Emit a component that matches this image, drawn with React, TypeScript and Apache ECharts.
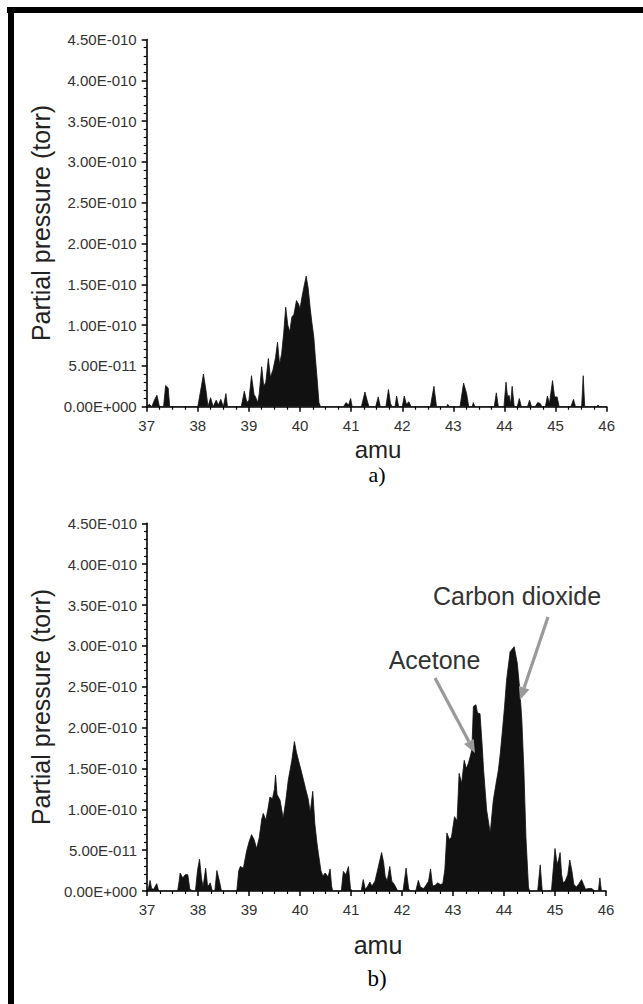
import React, { useEffect, useRef } from "react";
import * as echarts from "echarts";

// amu range and y ticks (units of 1E-11 torr)
const amuMin = 37;
const amuMax = 46;
const yMax = 45;
const yStep = 5;

// Panel a) spectrum: [amu, partial pressure in 1E-11 torr]
const spectrumA: [number, number][] = [
  [37.0, 0], [37.05, 0.3], [37.1, 0], [37.15, 0.8], [37.2, 1.4], [37.25, 0],
  [37.33, 0], [37.37, 2.6], [37.42, 2.3], [37.45, 0],
  [38.0, 0], [38.07, 2.5], [38.11, 4.0], [38.16, 2.0], [38.2, 0],
  [38.25, 1.1], [38.3, 0], [38.36, 0.8], [38.4, 0.2], [38.45, 0.9], [38.5, 0], [38.55, 1.6], [38.58, 0],
  [38.85, 0], [38.91, 1.9], [38.96, 0.5], [39.0, 0.8], [39.05, 3.8], [39.1, 1.5], [39.13, 1.2], [39.17, 0.5],
  [39.2, 1.5], [39.25, 4.9], [39.29, 2.5], [39.33, 3.0], [39.38, 5.9], [39.42, 3.6], [39.47, 4.5],
  [39.52, 6.0], [39.56, 7.9], [39.6, 5.2], [39.64, 6.5], [39.68, 9.0], [39.72, 12.2], [39.76, 10.0],
  [39.8, 9.2], [39.84, 11.0], [39.88, 11.3], [39.93, 13.0], [39.97, 12.6], [40.0, 12.0], [40.04, 13.5],
  [40.08, 14.8], [40.12, 16.0], [40.16, 14.5], [40.2, 12.0], [40.23, 10.4], [40.27, 8.5], [40.3, 6.0],
  [40.34, 3.0], [40.37, 0.5], [40.4, 0],
  [40.85, 0], [40.9, 0.5], [40.95, 0.2], [40.99, 1.0], [41.02, 0],
  [41.2, 0], [41.27, 1.8], [41.32, 0.6], [41.35, 0],
  [41.48, 0], [41.53, 1.2], [41.57, 0],
  [41.68, 0], [41.73, 2.1], [41.77, 0.4], [41.8, 0],
  [41.86, 0], [41.89, 1.3], [41.93, 0],
  [42.0, 0], [42.04, 1.3], [42.08, 0.3], [42.13, 0.6], [42.17, 0],
  [42.55, 0], [42.62, 2.5], [42.67, 0],
  [42.87, 0], [42.89, 0.3], [42.92, 0],
  [43.13, 0], [43.2, 2.9], [43.26, 1.6], [43.3, 0], [43.37, 0], [43.39, 0.5], [43.42, 0],
  [43.8, 0], [43.84, 1.7], [43.88, 0],
  [43.99, 0], [44.03, 3.0], [44.06, 1.2], [44.09, 1.4], [44.12, 0.3], [44.15, 2.5], [44.19, 0],
  [44.25, 0], [44.29, 1.0], [44.33, 0],
  [44.45, 0], [44.49, 0.8], [44.53, 0],
  [44.6, 0], [44.65, 0.5], [44.7, 0.4], [44.73, 0],
  [44.8, 0], [44.84, 1.3], [44.88, 0.4], [44.94, 3.2], [44.98, 1.2], [45.03, 1.2], [45.07, 0],
  [45.3, 0], [45.35, 0.9], [45.39, 0],
  [45.51, 0], [45.54, 3.8], [45.57, 0],
  [45.8, 0], [45.83, 0.2], [45.86, 0], [46.0, 0],
];

// Panel b) spectrum: [amu, partial pressure in 1E-11 torr]
const spectrumB: [number, number][] = [
  [37.0, 0], [37.03, 0.4], [37.06, 1.3], [37.09, 0.3], [37.13, 0.2], [37.19, 0.9], [37.23, 0],
  [37.6, 0], [37.63, 1.2], [37.65, 2.2], [37.7, 1.6], [37.75, 2.0], [37.8, 2.0], [37.84, 0.2], [37.9, 0],
  [37.95, 0], [37.99, 2.5], [38.03, 3.9], [38.07, 1.5], [38.1, 0.5], [38.15, 2.8], [38.19, 0.5],
  [38.24, 1.0], [38.28, 0], [38.33, 0], [38.37, 2.5], [38.42, 1.2], [38.46, 0],
  [38.76, 0], [38.8, 2.5], [38.83, 3.0], [38.89, 2.8], [38.95, 4.8], [39.0, 6.0], [39.05, 6.9],
  [39.1, 6.3], [39.15, 5.2], [39.2, 6.5], [39.25, 8.8], [39.28, 9.5], [39.33, 8.7], [39.37, 10.0],
  [39.41, 11.5], [39.46, 11.3], [39.5, 12.5], [39.52, 14.2], [39.55, 11.8], [39.61, 11.1], [39.67, 8.9],
  [39.72, 11.0], [39.77, 13.6], [39.84, 16.0], [39.89, 18.3], [39.93, 17.0], [39.97, 16.0], [40.02, 14.8],
  [40.06, 13.8], [40.11, 12.5], [40.16, 11.3], [40.2, 9.6], [40.25, 12.2], [40.29, 8.3], [40.33, 6.0],
  [40.36, 4.6], [40.41, 2.5], [40.45, 1.8], [40.49, 2.2], [40.52, 2.0], [40.55, 1.7], [40.59, 2.7],
  [40.62, 0.6], [40.64, 0],
  [40.81, 0], [40.85, 2.4], [40.9, 2.0], [40.95, 3.0], [40.99, 0.3], [41.02, 0],
  [41.2, 0], [41.24, 1.4], [41.28, 0.2], [41.33, 0.6], [41.37, 1.1], [41.41, 0.6], [41.47, 1.2],
  [41.53, 2.8], [41.6, 4.7], [41.64, 3.5], [41.67, 1.8], [41.71, 1.2], [41.76, 3.0], [41.8, 1.2],
  [41.85, 0.8], [41.9, 0.2], [41.93, 0],
  [42.02, 0], [42.08, 2.8], [42.13, 0.3], [42.16, 0],
  [42.27, 0], [42.32, 1.3], [42.36, 0.5], [42.42, 0.3], [42.46, 0.6], [42.52, 1.2], [42.56, 2.7],
  [42.6, 0.6], [42.65, 0.7], [42.7, 1.0], [42.75, 0.8], [42.8, 0.9], [42.84, 2.6], [42.88, 7.1],
  [42.93, 6.3], [42.97, 6.6], [43.03, 9.1], [43.08, 8.6], [43.12, 14.4], [43.17, 13.2], [43.22, 16.0],
  [43.26, 15.0], [43.3, 15.6], [43.34, 16.5], [43.37, 17.3], [43.4, 22.6], [43.45, 22.8], [43.48, 21.8],
  [43.53, 21.7], [43.57, 18.0], [43.6, 14.8], [43.66, 9.9], [43.73, 7.1], [43.79, 11.1], [43.84, 13.0],
  [43.89, 14.8], [43.93, 17.0], [43.97, 19.7], [44.01, 22.5], [44.05, 25.8], [44.12, 29.3], [44.2, 29.9],
  [44.26, 27.9], [44.31, 24.6], [44.35, 20.9], [44.39, 14.8], [44.43, 6.6], [44.48, 0.5], [44.5, 0],
  [44.66, 0], [44.71, 3.2], [44.75, 0],
  [44.93, 0], [44.97, 3.0], [45.0, 5.2], [45.04, 3.3], [45.07, 3.8], [45.1, 4.7], [45.13, 2.0],
  [45.16, 1.0], [45.2, 1.2], [45.25, 2.0], [45.29, 3.8], [45.33, 2.5], [45.37, 0.8], [45.42, 0.5],
  [45.47, 0.9], [45.52, 1.4], [45.56, 0.8], [45.6, 0.2], [45.65, 0.3], [45.72, 0.3], [45.78, 0],
  [45.85, 0], [45.88, 1.6], [45.91, 0], [46.0, 0],
];

const yTitle = "Partial pressure (torr)";
const xTitle = "amu";
const panelLabels = ["a)", "b)"];
const annotations = ["Acetone", "Carbon dioxide"];

const SANS = "Liberation Sans, Arial, Helvetica, sans-serif";
const SERIF = "Liberation Serif, Times New Roman, serif";

function fmtY(v: number): string {
  if (v === 0) return "0.00E+000";
  if (v >= 10) return (v / 10).toFixed(2) + "E-010";
  return v.toFixed(2) + "E-011";
}

function makeAxes(gridIndex: number) {
  const xAxis = {
    type: "value",
    gridIndex,
    min: amuMin,
    max: amuMax,
    interval: 1,
    axisLine: { show: true, onZero: false, lineStyle: { color: "#000", width: 1.6 } },
    axisTick: { show: true, inside: false, length: 5, lineStyle: { color: "#000", width: 1.5 } },
    minorTick: { show: true, splitNumber: 4, length: 3, lineStyle: { color: "#000", width: 1.2 } },
    splitLine: { show: false },
    axisLabel: { color: "#333", fontSize: 15, fontFamily: SANS, margin: 11 },
  };
  const yAxis = {
    type: "value",
    gridIndex,
    min: 0,
    max: yMax,
    interval: yStep,
    axisLine: { show: true, lineStyle: { color: "#000", width: 1.6 } },
    axisTick: { show: true, inside: false, length: 5, lineStyle: { color: "#000", width: 1.5 } },
    minorTick: { show: true, splitNumber: 5, length: 3, lineStyle: { color: "#000", width: 1.2 } },
    splitLine: { show: false },
    axisLabel: { color: "#333", fontSize: 15, fontFamily: SANS, margin: 10, formatter: fmtY },
  };
  return { xAxis, yAxis };
}

function arrow(x1: number, y1: number, x2: number, y2: number, color: string) {
  const dx = x2 - x1;
  const dy = y2 - y1;
  const len = Math.sqrt(dx * dx + dy * dy);
  const ux = dx / len;
  const uy = dy / len;
  const hl = 13;
  const hw = 5.5;
  const bx = x2 - ux * hl;
  const by = y2 - uy * hl;
  const px = -uy;
  const py = ux;
  return [
    {
      type: "line",
      shape: { x1, y1, x2: bx, y2: by },
      style: { stroke: color, lineWidth: 3.2 },
      z: 10,
    },
    {
      type: "polygon",
      shape: {
        points: [
          [x2, y2],
          [bx + px * hw, by + py * hw],
          [bx - px * hw, by - py * hw],
        ],
      },
      style: { fill: color },
      z: 10,
    },
  ];
}

function textEl(text: string, x: number, y: number, font: string, fill: string, rotation = 0) {
  return {
    type: "text",
    x,
    y,
    rotation,
    style: {
      text,
      font,
      fill,
      align: "center",
      verticalAlign: "middle",
      textAlign: "center",
      textVerticalAlign: "middle",
    },
    z: 10,
  };
}

export default function App() {
  const ref = useRef<HTMLDivElement>(null);
  useEffect(() => {
    if (!ref.current) return;
    const chart = echarts.init(ref.current, undefined, { renderer: "svg" });
    const a = makeAxes(0);
    const b = makeAxes(1);
    const seriesStyle = {
      type: "line",
      showSymbol: false,
      symbol: "none",
      smooth: false,
      lineStyle: { color: "#111", width: 0.8 },
      areaStyle: { color: "#111", opacity: 1 },
      silent: true,
    };
    const arrowColor = "#9a9a9a";
    chart.setOption({
      animation: false,
      backgroundColor: "#fff",
      grid: [
        { left: 146.7, top: 39.5, width: 460, height: 367.2 },
        { left: 147, top: 523.4, width: 459, height: 367.6 },
      ],
      xAxis: [a.xAxis, b.xAxis],
      yAxis: [a.yAxis, b.yAxis],
      series: [
        { ...seriesStyle, name: "a", xAxisIndex: 0, yAxisIndex: 0, data: spectrumA },
        { ...seriesStyle, name: "b", xAxisIndex: 1, yAxisIndex: 1, data: spectrumB },
      ],
      graphic: [
        { type: "rect", shape: { x: 7, y: 7, width: 636, height: 6 }, style: { fill: "#000" }, z: 20 },
        { type: "rect", shape: { x: 8, y: 7, width: 6, height: 997 }, style: { fill: "#000" }, z: 20 },
        textEl(yTitle, 41, 223, "25px " + SANS, "#222", Math.PI / 2),
        textEl(yTitle, 41, 707, "25px " + SANS, "#222", Math.PI / 2),
        textEl(xTitle, 378, 449, "24px " + SANS, "#222"),
        textEl(xTitle, 378, 945, "25px " + SANS, "#222"),
        textEl(panelLabels[0], 377, 474, "22px " + SERIF, "#000"),
        textEl(panelLabels[1], 377, 978, "23px " + SERIF, "#000"),
        textEl(annotations[0], 434.5, 660, "25px " + SANS, "#333"),
        textEl(annotations[1], 517, 596, "25px " + SANS, "#333"),
        ...arrow(435, 678, 475, 753, arrowColor),
        ...arrow(548, 617, 520, 700, arrowColor),
      ],
    });
    return () => chart.dispose();
  }, []);
  return (
    <div
      ref={ref}
      style={{ position: "absolute", left: 0, top: 0, width: 643, height: 1004 }}
    />
  );
}
